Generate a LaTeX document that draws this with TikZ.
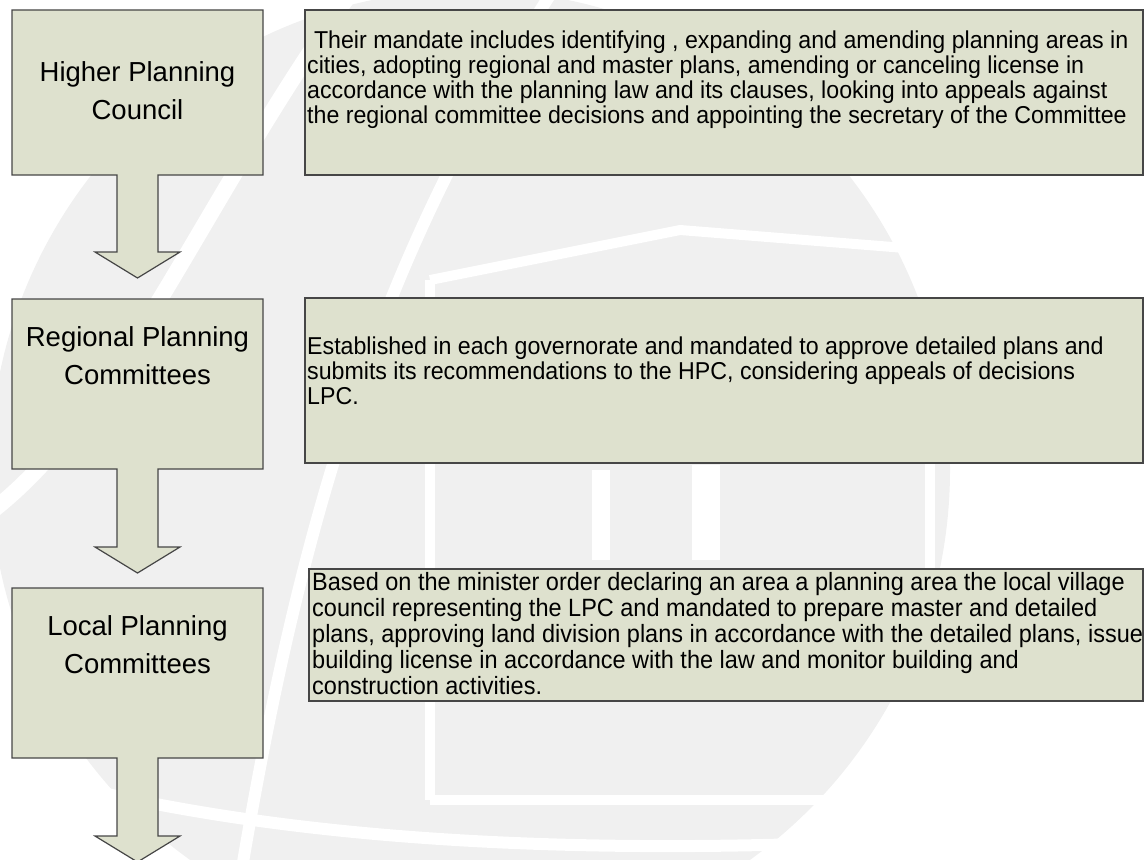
\documentclass[tikz,border=0pt]{standalone}
\usepackage{fontspec}
\setmainfont{Liberation Sans}
\newfontfamily\bodyfont[FakeStretch=0.95]{Liberation Sans}
\newfontfamily\narrowfont[FakeStretch=0.94]{Liberation Sans}
\definecolor{boxfill}{RGB}{222,225,206}
\definecolor{boxline}{RGB}{70,70,70}
\definecolor{wm}{RGB}{240,240,240}

\begin{document}
\begin{tikzpicture}[x=1pt,y=-1pt,
  panel/.style={draw=boxline, fill=boxfill, line width=1.2pt, line join=miter},
  title/.style={font=\fontsize{27.5}{38}\selectfont, align=center, inner sep=0pt, anchor=north},
  desc/.style={font=\bodyfont\fontsize{24.4}{25}\selectfont, align=left, inner sep=0pt, anchor=north west},
  descnarrow/.style={desc, font=\narrowfont\fontsize{25}{26}\selectfont}]
\useasboundingbox (0,0) rectangle (1145,859);
\clip (0,0) rectangle (1145,859);

% faint emblem in the background
\fill[wm] (470,470) circle (480);
\draw[white, line width=16pt] (360,-20) .. controls (200,200) and (120,420) .. (-20,520);
\draw[white, line width=12pt] (560,-20) .. controls (380,250) and (300,520) .. (240,880);
\draw[white, line width=12pt] (-20,760) .. controls (200,830) and (500,860) .. (900,840);
\draw[white, line width=10pt] (430,280) -- (430,800);
\draw[white, line width=10pt] (930,250) -- (930,800);
\draw[white, line width=10pt] (430,800) -- (930,800);
\draw[white, line width=10pt] (430,280) -- (680,230) -- (930,250);
\fill[white] (592,470) rectangle (610,560);
\fill[white] (692,465) rectangle (720,560);

% left column: titles with their down arrows
\draw[panel] (12,10) -- (263,10) -- (263,175) -- (158,175) -- (158,252) -- (180,252)
  -- (137.5,278) -- (95,252) -- (117,252) -- (117,175) -- (12,175) -- cycle;
\draw[panel] (12,299) -- (263,299) -- (263,469) -- (158,469) -- (158,547) -- (180,547)
  -- (137.5,573) -- (95,547) -- (117,547) -- (117,469) -- (12,469) -- cycle;
\draw[panel] (12,588) -- (263,588) -- (263,758) -- (158,758) -- (158,836) -- (180,836)
  -- (137.5,862) -- (95,836) -- (117,836) -- (117,758) -- (12,758) -- cycle;

\node[title] (hpc) at (137.5,61) {Higher Planning\\Council};
\node[title] (rpc) at (137.5,326) {Regional Planning\\Committees};
\node[title] (lpc) at (137.5,615) {Local Planning\\Committees};

% right column: mandates
\draw[panel] (305,10) rectangle (1143,175);
\draw[panel] (305,298) rectangle (1143,463);
\draw[panel] (309,569) rectangle (1143,701);

\node[desc] (hpcdesc) at (307,31) {\hspace*{0.28em}Their mandate includes identifying , expanding and amending planning areas in\\
cities, adopting regional and master plans, amending or canceling license in\\
accordance with the planning law and its clauses, looking into appeals against\\
the regional committee decisions and appointing the secretary of the Committee};

\node[desc] (rpcdesc) at (307,337) {Established in each governorate and mandated to approve detailed plans and\\
submits its recommendations to the HPC, considering appeals of decisions\\
LPC.};

\node[descnarrow] (lpcdesc) at (312,572) {Based on the minister order declaring an area a planning area the local village\\
council representing the LPC and mandated to prepare master and detailed\\
plans, approving land division plans in accordance with the detailed plans, issue\\
building license in accordance with the law and monitor building and\\
construction activities.};
\end{tikzpicture}
\end{document}
